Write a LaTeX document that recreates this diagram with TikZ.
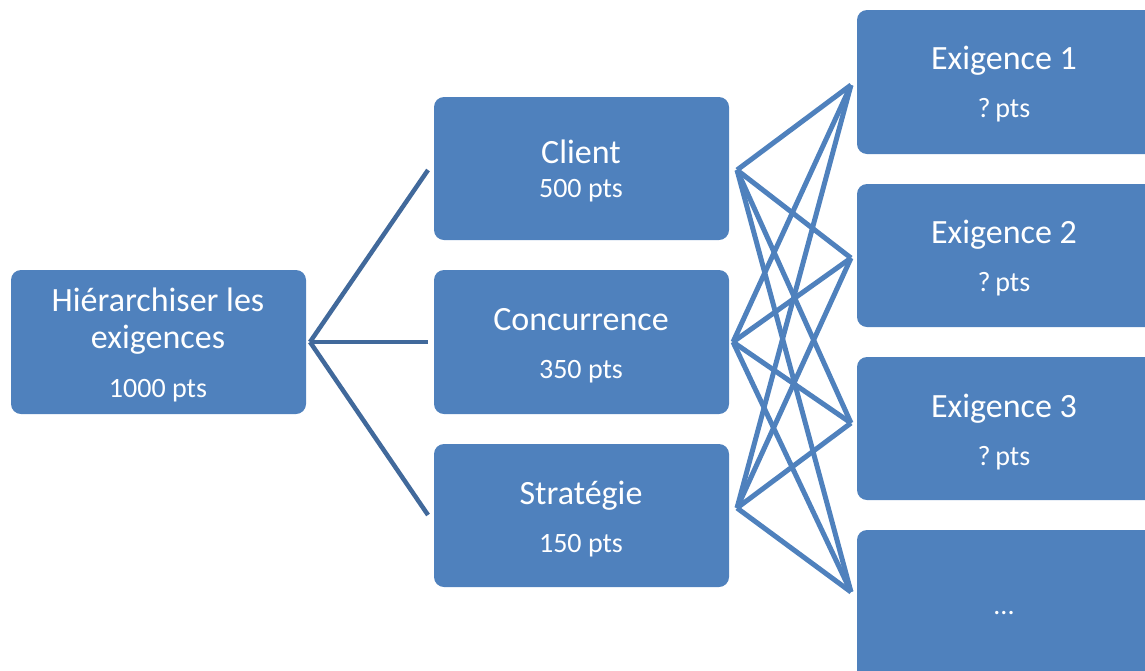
\documentclass[tikz,border=0pt]{standalone}
\usepackage{fontspec}
\setmainfont{Carlito}
\definecolor{boxblue}{HTML}{4F81BD}
\definecolor{linkdark}{HTML}{41699B}
\tikzset{
  box/.style={fill=boxblue, draw=none, rounded corners=10pt},
  ttl/.style={text=white, anchor=base, inner sep=0pt, font=\fontsize{34}{40}\selectfont},
  sub/.style={text=white, anchor=base, inner sep=0pt, font=\fontsize{28}{34}\selectfont},
  lkL/.style={draw=linkdark, line width=4.5pt},
  lkR/.style={draw=boxblue, line width=5pt},
}
\begin{document}
\begin{tikzpicture}[x=1pt,y=-1pt]
\useasboundingbox (0,0) rectangle (1145,670);
% boxes
\fill[box] (11,270) rectangle (306,414);
\fill[box] (434,97) rectangle (729,240);
\fill[box] (434,270) rectangle (729,414);
\fill[box] (434,444) rectangle (729,587);
\fill[box] (857,10) rectangle (1160,154);
\fill[box] (857,184) rectangle (1160,327);
\fill[box] (857,357) rectangle (1160,500);
\fill[box] (857,530) rectangle (1160,690);
% texts
\node[ttl] (t0a) at (158,311) {Hiérarchiser les};
\node[ttl] (t0b) at (158,348) {exigences};
\node[sub] (t0c) at (158,397) {1000 pts};
\node[ttl] (t1a) at (581,163) {Client};
\node[sub] (t1b) at (581,197) {500 pts};
\node[ttl] (t2a) at (581,330) {Concurrence};
\node[sub] (t2b) at (581,378) {350 pts};
\node[ttl] (t3a) at (581,504) {Stratégie};
\node[sub] (t3b) at (581,552) {150 pts};
\node[ttl] (e1a) at (1004,69) {Exigence 1};
\node[sub] (e1b) at (1004,117) {?\,pts};
\node[ttl] (e2a) at (1004,243) {Exigence 2};
\node[sub] (e2b) at (1004,291) {?\,pts};
\node[ttl] (e3a) at (1004,417) {Exigence 3};
\node[sub] (e3b) at (1004,465) {?\,pts};
\node[sub] (e4a) at (1004,614) {...};
% junction coordinates
\coordinate (rj) at (310,342);
\coordinate (c1in) at (428,170);
\coordinate (c2in) at (428,342);
\coordinate (c3in) at (428,515);
\coordinate (c1out) at (737,170);
\coordinate (c2out) at (733,342);
\coordinate (c3out) at (737,508);
\coordinate (x1) at (851,85);
\coordinate (x2) at (851,258);
\coordinate (x3) at (851,423);
\coordinate (x4) at (851,592);
% left connectors
\draw[lkL] (rj) -- (c1in);
\draw[lkL] (rj) -- (c2in);
\draw[lkL] (rj) -- (c3in);
% right connectors
\foreach \s in {c1out,c2out,c3out}{
  \foreach \t in {x1,x2,x3,x4}{
    \draw[lkR] (\s) -- (\t);
  }
}
\end{tikzpicture}
\end{document}
